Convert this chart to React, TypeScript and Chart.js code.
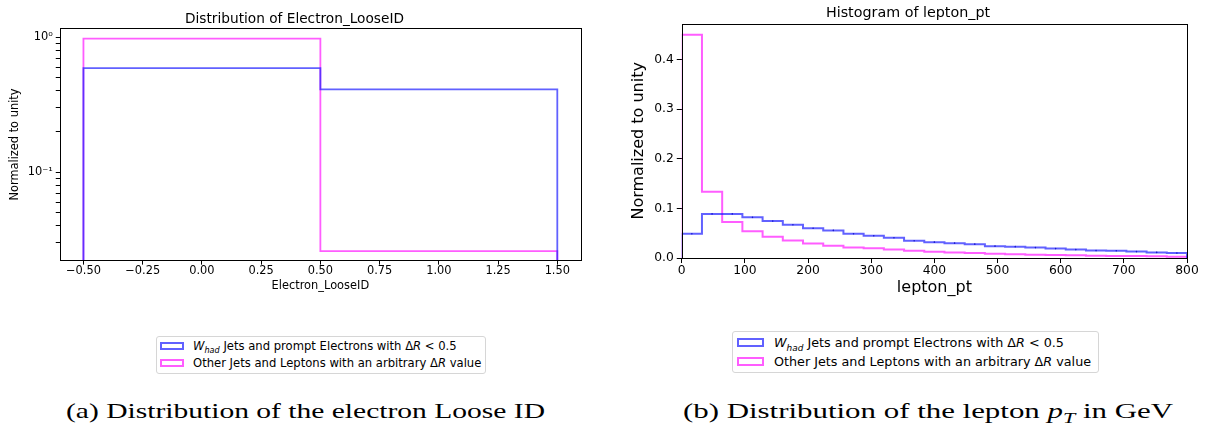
import React, { useEffect, useLayoutEffect, useRef } from "react";
import { Chart, registerables } from "chart.js";

Chart.register(...registerables);

// ---------- Data: (a) Electron_LooseID ----------
const looseIdEdges = [-0.5, 0.5, 1.5];
const looseIdWhad = [0.59, 0.41];
const looseIdOther = [0.974, 0.026];
const looseIdXTicks = [-0.5, -0.25, 0, 0.25, 0.5, 0.75, 1.0, 1.25, 1.5];
const looseIdXLabels = ["\u22120.50", "\u22120.25", "0.00", "0.25", "0.50", "0.75", "1.00", "1.25", "1.50"];
const looseIdYMajor = [0.1, 1];
const looseIdYMajorLabels = ["10\u207B\u00B9", "10\u2070"];
const looseIdYMinor = [0.03, 0.04, 0.05, 0.06, 0.07, 0.08, 0.09, 0.2, 0.3, 0.4, 0.5, 0.6, 0.7, 0.8, 0.9];

// ---------- Data: (b) lepton_pt ----------
const ptEdges = [0, 32, 64, 96, 128, 160, 192, 224, 256, 288, 320, 352, 384, 416, 448, 480, 512, 544, 576, 608, 640, 672, 704, 736, 768, 800];
const ptWhad = [0.049, 0.089, 0.089, 0.082, 0.0745, 0.067, 0.06, 0.0557, 0.049, 0.045, 0.041, 0.035, 0.032, 0.03, 0.028, 0.024, 0.023, 0.021, 0.019, 0.017, 0.015, 0.0148, 0.013, 0.0114, 0.01];
const ptOther = [0.45, 0.1336, 0.0725, 0.054, 0.043, 0.0356, 0.0295, 0.025, 0.0215, 0.0195, 0.017, 0.0148, 0.0128, 0.0114, 0.01, 0.0087, 0.0074, 0.0067, 0.006, 0.0054, 0.0047, 0.004, 0.004, 0.0034, 0.0027];
const ptXTicks = [0, 100, 200, 300, 400, 500, 600, 700, 800];
const ptXLabels = ["0", "100", "200", "300", "400", "500", "600", "700", "800"];
const ptYTicks = [0, 0.1, 0.2, 0.3, 0.4];
const ptYLabels = ["0.0", "0.1", "0.2", "0.3", "0.4"];

const BLUE = "rgba(30,30,255,0.7)";
const MAGENTA = "rgba(255,30,255,0.72)";
const FONT = "'DejaVu Sans', sans-serif";

function stepPoints(edges: number[], values: number[], floor: number) {
  const pts: { x: number; y: number }[] = [{ x: edges[0], y: floor }];
  values.forEach((v, i) => pts.push({ x: edges[i], y: v }));
  pts.push({ x: edges[edges.length - 1], y: floor });
  return pts;
}

function centers(edges: number[], values: number[]) {
  return values.map((v, i) => ({ x: (edges[i] + edges[i + 1]) / 2, y: v }));
}

function labelFor(ticks: number[], labels: string[]) {
  return (v: any) => {
    const i = ticks.findIndex((t) => Math.abs(t - v) < 1e-9);
    return i >= 0 ? labels[i] : "";
  };
}

const framePlugin = {
  id: "frame",
  afterDraw(chart: any) {
    const { ctx, chartArea } = chart;
    ctx.save();
    ctx.strokeStyle = "#000";
    ctx.lineWidth = 1;
    ctx.strokeRect(
      Math.round(chartArea.left) + 0.5,
      Math.round(chartArea.top) + 0.5,
      Math.round(chartArea.right - chartArea.left),
      Math.round(chartArea.bottom - chartArea.top)
    );
    ctx.restore();
  },
};

function LooseIdChart() {
  const ref = useRef<HTMLCanvasElement>(null);
  useEffect(() => {
    const chart = new Chart(ref.current!, {
      type: "line",
      data: {
        datasets: [
          {
            label: "Whad",
            data: stepPoints(looseIdEdges, looseIdWhad, 0.001),
            borderColor: BLUE,
            borderWidth: 1.8,
            stepped: "before",
            pointRadius: 0,
            fill: false,
          },
          {
            label: "Other",
            data: stepPoints(looseIdEdges, looseIdOther, 0.001),
            borderColor: MAGENTA,
            borderWidth: 1.8,
            stepped: "before",
            pointRadius: 0,
            fill: false,
          },
        ],
      },
      options: {
        animation: false,
        responsive: false,
        maintainAspectRatio: false,
        layout: { padding: { left: 8, right: 19, top: 0, bottom: 7 } },
        plugins: {
          legend: { display: false },
          tooltip: { enabled: false },
          title: {
            display: true,
            text: "Distribution of Electron_LooseID",
            color: "#000",
            font: { family: FONT, size: 13.7, weight: "normal" },
            padding: { top: 11, bottom: 1 },
          },
        },
        scales: {
          x: {
            type: "linear",
            min: -0.6,
            max: 1.6,
            afterBuildTicks: (scale: any) => {
              scale.ticks = looseIdXTicks.map((v) => ({ value: v }));
            },
            ticks: {
              autoSkip: false,
              maxRotation: 0,
              color: "#000",
              font: { family: FONT, size: 11.4 },
              padding: 0,
              callback: labelFor(looseIdXTicks, looseIdXLabels),
            },
            grid: { drawOnChartArea: false, tickLength: 4, color: "#000" },
            border: { display: false },
            title: {
              display: true,
              text: "Electron_LooseID",
              color: "#000",
              font: { family: FONT, size: 11.4 },
              padding: { top: 1, bottom: 0 },
            },
          },
          y: {
            type: "logarithmic",
            min: 0.0221,
            max: 1.16,
            afterBuildTicks: (scale: any) => {
              scale.ticks = [...looseIdYMinor, ...looseIdYMajor]
                .sort((a, b) => a - b)
                .map((v) => ({ value: v }));
            },
            ticks: {
              autoSkip: false,
              color: "#000",
              font: { family: FONT, size: 11.4 },
              padding: 3,
              callback: labelFor(looseIdYMajor, looseIdYMajorLabels),
            },
            grid: { drawOnChartArea: false, tickLength: 4, color: "#000" },
            border: { display: false },
            title: {
              display: true,
              text: "Normalized to unity",
              color: "#000",
              font: { family: FONT, size: 11.4 },
              padding: { top: 0, bottom: 3 },
            },
          },
        },
      } as any,
      plugins: [framePlugin],
    });
    return () => chart.destroy();
  }, []);
  return <canvas ref={ref} width={600} height={300} style={{ width: 600, height: 300, display: "block" }} />;
}

function PtChart() {
  const ref = useRef<HTMLCanvasElement>(null);
  useEffect(() => {
    const chart = new Chart(ref.current!, {
      type: "line",
      data: {
        datasets: [
          {
            label: "Whad",
            data: stepPoints(ptEdges, ptWhad, 0),
            borderColor: BLUE,
            borderWidth: 2,
            stepped: "before",
            pointRadius: 0,
            fill: false,
          },
          {
            label: "Whad centers",
            data: centers(ptEdges, ptWhad),
            showLine: false,
            pointRadius: 0.8,
            pointBorderWidth: 0,
            pointBackgroundColor: "#10106a",
            borderColor: "#10106a",
          },
          {
            label: "Other",
            data: stepPoints(ptEdges, ptOther, 0),
            borderColor: MAGENTA,
            borderWidth: 2,
            stepped: "before",
            pointRadius: 0,
            fill: false,
          },
        ],
      },
      options: {
        animation: false,
        responsive: false,
        maintainAspectRatio: false,
        layout: { padding: { left: 29, right: 19, top: 0, bottom: 3 } },
        plugins: {
          legend: { display: false },
          tooltip: { enabled: false },
          title: {
            display: true,
            text: "Histogram of lepton_pt",
            color: "#000",
            font: { family: FONT, size: 14.3, weight: "normal" },
            padding: { top: 5, bottom: 1.5 },
          },
        },
        scales: {
          x: {
            type: "linear",
            min: 0,
            max: 800,
            afterBuildTicks: (scale: any) => {
              scale.ticks = ptXTicks.map((v) => ({ value: v }));
            },
            ticks: {
              autoSkip: false,
              maxRotation: 0,
              color: "#000",
              font: { family: FONT, size: 12.3 },
              padding: 0,
              callback: labelFor(ptXTicks, ptXLabels),
            },
            grid: { drawOnChartArea: false, tickLength: 5, color: "#000" },
            border: { display: false },
            title: {
              display: true,
              text: "lepton_pt",
              color: "#000",
              font: { family: FONT, size: 16 },
              padding: { top: 0, bottom: 0 },
            },
          },
          y: {
            type: "linear",
            min: 0,
            max: 0.4725,
            afterBuildTicks: (scale: any) => {
              scale.ticks = ptYTicks.map((v) => ({ value: v }));
            },
            ticks: {
              autoSkip: false,
              color: "#000",
              font: { family: FONT, size: 12.3 },
              padding: 3,
              callback: labelFor(ptYTicks, ptYLabels),
            },
            grid: { drawOnChartArea: false, tickLength: 5, color: "#000" },
            border: { display: false },
            title: {
              display: true,
              text: "Normalized to unity",
              color: "#000",
              font: { family: FONT, size: 16 },
              padding: { top: 0, bottom: 3 },
            },
          },
        },
      } as any,
      plugins: [framePlugin],
    });
    return () => chart.destroy();
  }, []);
  return <canvas ref={ref} width={606} height={300} style={{ width: 606, height: 300, display: "block" }} />;
}

function Legend(props: {
  left: number;
  top: number;
  width: number;
  height: number;
  fontSize: number;
  patchW: number;
  patchH: number;
  padLeft: number;
  gap: number;
  rowGap: number;
}) {
  const { left, top, width, height, fontSize, patchW, patchH, padLeft, gap, rowGap } = props;
  const patch = (color: string) => (
    <span
      style={{
        display: "inline-block",
        width: patchW,
        height: patchH,
        border: `2px solid ${color}`,
        boxSizing: "border-box",
        marginRight: gap,
        verticalAlign: "middle",
        position: "relative",
        top: -1,
      }}
    />
  );
  return (
    <div
      style={{
        position: "absolute",
        left,
        top,
        width,
        height,
        boxSizing: "border-box",
        paddingLeft: padLeft,
        paddingTop: (height - 2 * rowGap) / 2 - 1,
        border: "1px solid #d6d6d6",
        borderRadius: 3,
        background: "#fff",
        fontFamily: FONT,
        fontSize,
        color: "#000",
        whiteSpace: "nowrap",
        lineHeight: `${rowGap}px`,
      }}
    >
      <div>
        {patch(BLUE)}
        <i>W</i>
        <sub style={{ fontSize: fontSize * 0.7, lineHeight: 0 }}>
          <i>had</i>
        </sub>{" "}
        Jets and prompt Electrons with Δ<i>R</i> &lt; 0.5
      </div>
      <div>
        {patch(MAGENTA)}
        Other Jets and Leptons with an arbitrary Δ<i>R</i> value
      </div>
    </div>
  );
}

function Caption(props: { left: number; top: number; width: number; children: React.ReactNode }) {
  const ref = useRef<HTMLDivElement>(null);
  useLayoutEffect(() => {
    const el = ref.current!;
    el.style.transform = "none";
    const w = el.getBoundingClientRect().width;
    if (w > 0) el.style.transform = `scaleX(${props.width / w})`;
  }, [props.width]);
  return (
    <div
      ref={ref}
      style={{
        position: "absolute",
        left: props.left,
        top: props.top,
        fontFamily: "'Liberation Serif', 'DejaVu Serif', serif",
        fontSize: 21,
        color: "#000",
        whiteSpace: "nowrap",
        lineHeight: "24px",
        transformOrigin: "0 0",
      }}
    >
      {props.children}
    </div>
  );
}

export default function App() {
  return (
    <div style={{ position: "absolute", left: 0, top: 0, width: 1206, height: 423, background: "#fff", overflow: "hidden" }}>
      <div style={{ position: "absolute", left: 0, top: 0 }}>
        <LooseIdChart />
      </div>
      <div style={{ position: "absolute", left: 600, top: 0 }}>
        <PtChart />
      </div>
      <Legend left={156} top={336} width={330} height={38} fontSize={11.6} patchW={24} patchH={8} padLeft={3} gap={9} rowGap={17} />
      <Legend left={732} top={331} width={367} height={42} fontSize={12.75} patchW={27} patchH={9} padLeft={4} gap={10} rowGap={19} />
      <Caption left={66} top={399} width={479}>
        (a) Distribution of the electron Loose ID
      </Caption>
      <Caption left={683} top={399} width={490}>
        (b) Distribution of the lepton <i>p</i>
        <sub style={{ fontSize: 15, lineHeight: 0 }}>
          <i>T</i>
        </sub>{" "}
        in GeV
      </Caption>
    </div>
  );
}
